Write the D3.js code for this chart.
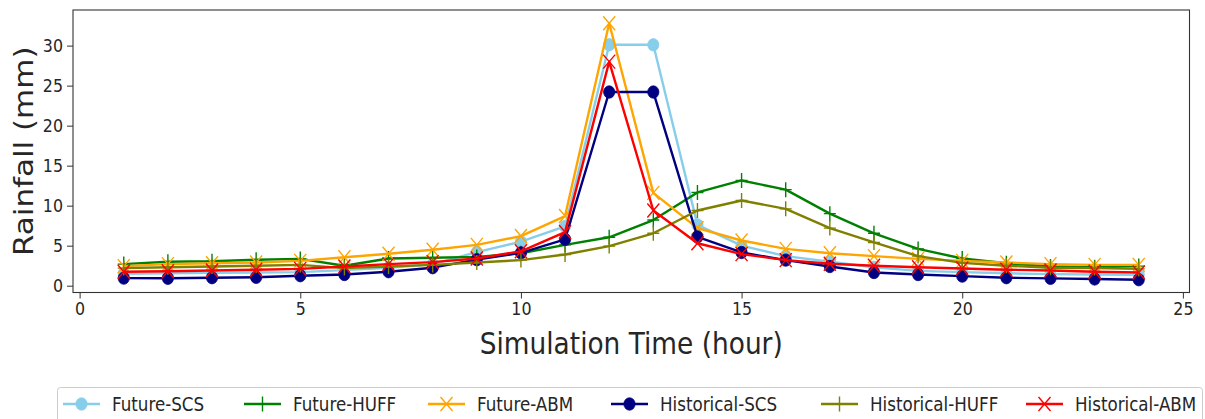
<!DOCTYPE html>
<html>
<head>
<meta charset="utf-8">
<script src="https://cdn.jsdelivr.net/npm/d3@7"></script>
<style>
  html, body { margin: 0; padding: 0; background: #fff; }
  svg { display: block; }
  text { font-family: "DejaVu Sans", sans-serif; fill: #262626; }
</style>
</head>
<body>
<svg id="chart" width="1205" height="419"></svg>
<script>
// Hourly rainfall (mm) for each design-storm distribution
const hours = d3.range(1, 25);
const futureSCS  = [1.5, 1.55, 1.6, 1.65, 1.7, 1.95, 2.25, 2.7, 4.2, 5.5, 7.4, 30.1, 30.1, 7.6, 5.0, 3.7, 3.0, 2.3, 1.85, 1.7, 1.55, 1.45, 1.4, 1.35];
const futureHUFF = [2.7, 3.0, 3.05, 3.25, 3.35, 2.5, 3.4, 3.5, 3.6, 4.05, 5.1, 6.05, 8.2, 11.65, 13.15, 12.0, 9.0, 6.55, 4.6, 3.4, 2.8, 2.4, 2.3, 2.45];
const futureABM  = [2.45, 2.7, 2.8, 2.9, 3.1, 3.55, 4.0, 4.5, 5.1, 6.2, 8.7, 32.8, 11.6, 7.2, 5.65, 4.6, 4.05, 3.7, 3.35, 3.1, 2.9, 2.7, 2.6, 2.6];
const histSCS    = [0.95, 0.93, 1.0, 1.05, 1.25, 1.4, 1.75, 2.25, 3.25, 4.1, 5.8, 24.2, 24.2, 6.1, 4.15, 3.2, 2.4, 1.65, 1.4, 1.2, 1.0, 0.92, 0.84, 0.75];
const histHUFF   = [2.2, 2.3, 2.4, 2.5, 2.6, 2.2, 2.4, 2.6, 2.9, 3.2, 3.9, 4.95, 6.55, 9.4, 10.65, 9.6, 7.2, 5.4, 3.7, 2.85, 2.5, 2.25, 2.2, 2.1];
const histABM    = [1.75, 1.8, 1.9, 2.0, 2.1, 2.4, 2.7, 2.95, 3.4, 4.3, 6.7, 28.0, 9.4, 5.3, 3.95, 3.2, 2.75, 2.5, 2.3, 2.15, 2.0, 1.9, 1.75, 1.65];

const seriesNames = ["Future-SCS", "Future-HUFF", "Future-ABM", "Historical-SCS", "Historical-HUFF", "Historical-ABM"];
const seriesValues = [futureSCS, futureHUFF, futureABM, histSCS, histHUFF, histABM];
const seriesColors = ["#87ceeb", "#008000", "#ffa500", "#000080", "#808000", "#ff0000"];
const seriesMarkers = ["circle", "plus", "x", "circle", "plus", "x"];

const xTicks = [0, 5, 10, 15, 20, 25];
const yTicks = [0, 5, 10, 15, 20, 25, 30];

const svg = d3.select("#chart");
const plot = { left: 73, top: 10, right: 1189.5, bottom: 292.5 };
const textSqueeze = 0.88;

const x = d3.scaleLinear().domain([-0.15, 25.15]).range([plot.left, plot.right]);
const y = d3.scaleLinear().domain([-0.85, 34.45]).range([plot.bottom, plot.top]);

// Axes
const xAxis = d3.axisBottom(x).tickValues(xTicks).tickSize(6).tickPadding(4).tickFormat(d3.format("d"));
const yAxis = d3.axisLeft(y).tickValues(yTicks).tickSize(6).tickPadding(4).tickFormat(d3.format("d"));

function styleAxis(g) {
  g.select(".domain").remove();
  g.selectAll(".tick line").attr("stroke", "#333").attr("stroke-width", 1);
  g.selectAll(".tick text")
    .style("font-size", "18px")
    .attr("fill", "#262626");
}

const gx = svg.append("g").attr("transform", `translate(0,${plot.bottom})`).call(xAxis).call(styleAxis);
gx.selectAll(".tick text").each(function () {
  d3.select(this).attr("transform", `scale(${textSqueeze},1)`).attr("x", 0);
});
const gy = svg.append("g").attr("transform", `translate(${plot.left},0)`).call(yAxis).call(styleAxis);
gy.selectAll(".tick text").each(function () {
  const t = d3.select(this);
  const xx = +t.attr("x");
  t.attr("x", null).attr("transform", `translate(${xx},0) scale(${textSqueeze},1)`);
});

// Series lines and markers
const line = d3.line().x((d, i) => x(hours[i])).y(d => y(d));

function drawMarker(g, kind, color, cx, cy) {
  if (kind === "circle") {
    g.append("ellipse").attr("cx", cx).attr("cy", cy).attr("rx", 5.6).attr("ry", 6.2)
      .attr("fill", color).attr("stroke", color).attr("stroke-width", 0.8);
  } else if (kind === "plus") {
    g.append("path")
      .attr("d", `M${cx - 6},${cy}H${cx + 6}M${cx},${cy - 7.5}V${cy + 7.5}`)
      .attr("stroke", color).attr("stroke-width", 1.4).attr("fill", "none");
  } else {
    g.append("path")
      .attr("d", `M${cx - 6},${cy - 7}L${cx + 6},${cy + 7}M${cx - 6},${cy + 7}L${cx + 6},${cy - 7}`)
      .attr("stroke", color).attr("stroke-width", 1.4).attr("fill", "none");
  }
}

const clipId = "plot-clip";
svg.append("clipPath").attr("id", clipId).append("rect")
  .attr("x", plot.left).attr("y", plot.top)
  .attr("width", plot.right - plot.left).attr("height", plot.bottom - plot.top);

const gSeries = svg.append("g").attr("clip-path", `url(#${clipId})`);
seriesValues.forEach((vals, s) => {
  const g = gSeries.append("g");
  g.append("path").datum(vals).attr("d", line)
    .attr("fill", "none").attr("stroke", seriesColors[s]).attr("stroke-width", 2.4)
    .attr("stroke-linejoin", "round");
  vals.forEach((v, i) => drawMarker(g, seriesMarkers[s], seriesColors[s], x(hours[i]), y(v)));
});

// Frame
svg.append("rect")
  .attr("x", plot.left).attr("y", plot.top)
  .attr("width", plot.right - plot.left).attr("height", plot.bottom - plot.top)
  .attr("fill", "none").attr("stroke", "#333").attr("stroke-width", 1.1);

// Axis titles
svg.append("text")
  .attr("transform", `translate(${(plot.left + plot.right) / 2},354) scale(${textSqueeze},1)`)
  .attr("text-anchor", "middle").style("font-size", "30px")
  .text("Simulation Time (hour)");

svg.append("text")
  .attr("transform", `translate(33,${(plot.top + plot.bottom) / 2}) scale(0.88,1) rotate(-90)`)
  .attr("text-anchor", "middle").style("font-size", "31px")
  .text("Rainfall (mm)");

// Legend
const legend = svg.append("g");
legend.append("rect")
  .attr("x", 57.5).attr("y", 387.5).attr("width", 1145).attr("height", 60)
  .attr("rx", 3).attr("fill", "#fff").attr("stroke", "#cccccc").attr("stroke-width", 1);

const legendTextX = [112, 293, 477, 660, 870, 1075];
const legendY = 404;
seriesNames.forEach((name, s) => {
  const g = legend.append("g");
  const tx = legendTextX[s];
  g.append("line").attr("x1", tx - 49).attr("x2", tx - 12).attr("y1", legendY).attr("y2", legendY)
    .attr("stroke", seriesColors[s]).attr("stroke-width", 2.4);
  drawMarker(g, seriesMarkers[s], seriesColors[s], tx - 30.5, legendY);
  g.append("text")
    .attr("transform", `translate(${tx},${legendY + 7}) scale(${textSqueeze},1)`)
    .style("font-size", "19px")
    .text(name);
});
</script>
</body>
</html>
